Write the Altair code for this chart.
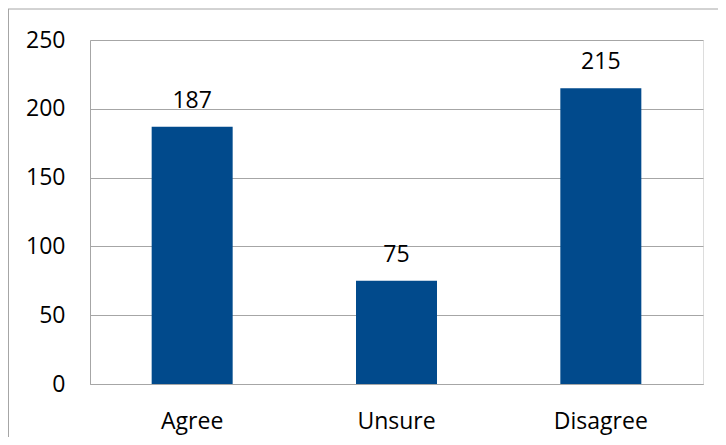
import altair as alt
import pandas as pd

categories = ["Agree", "Unsure", "Disagree"]
values = [187, 75, 215]
y_ticks = [0, 50, 100, 150, 200, 250]

df = pd.DataFrame({"cat": categories, "val": values})

FONT = "Open Sans"
GRID = "#A6A6A6"
BAR = "#014A8C"

x_enc = alt.X(
    "cat:N",
    sort=categories,
    title=None,
    scale=alt.Scale(paddingInner=0, paddingOuter=0),
    axis=alt.Axis(
        labelAngle=0,
        ticks=False,
        domain=True,
        domainColor=GRID,
        grid=False,
        labelFont=FONT,
        labelFontSize=23,
        labelColor="#000000",
        labelPadding=26,
    ),
)
y_enc = alt.Y(
    "val:Q",
    title=None,
    scale=alt.Scale(domain=[0, 250], nice=False),
    axis=alt.Axis(
        values=y_ticks,
        ticks=False,
        domain=True,
        domainColor=GRID,
        grid=True,
        gridColor=GRID,
        labelFont=FONT,
        labelFontSize=23,
        labelColor="#000000",
        labelPadding=25,
    ),
)

base = alt.Chart(df)
bars = base.mark_bar(size=81, color=BAR).encode(x=x_enc, y=y_enc)
labels = base.mark_text(
    baseline="alphabetic", dy=-19, font=FONT, fontSize=23, color="#000000"
).encode(x=alt.X("cat:N", sort=categories), y="val:Q", text="val:Q")

border_data = alt.Data(values=[{"a": 1}])
top_border = alt.Chart(border_data).mark_rule(color=GRID, strokeWidth=1).encode(
    x=alt.value(-82), x2=alt.value(640), y=alt.value(-31)
)
left_border = alt.Chart(border_data).mark_rule(color=GRID, strokeWidth=1).encode(
    x=alt.value(-81.5), y=alt.value(-31), y2=alt.value(420)
)

chart = (
    alt.layer(bars, labels, top_border, left_border)
    .properties(
        width=613,
        height=344,
        autosize=alt.AutoSizeParams(type="none"),
        padding={"left": 82, "top": 32, "right": 15, "bottom": 53},
    )
    .configure_view(stroke=None)
    .configure(background="#FFFFFF")
)

chart.save("out.html", embed_options={"renderer": "svg", "actions": False})
